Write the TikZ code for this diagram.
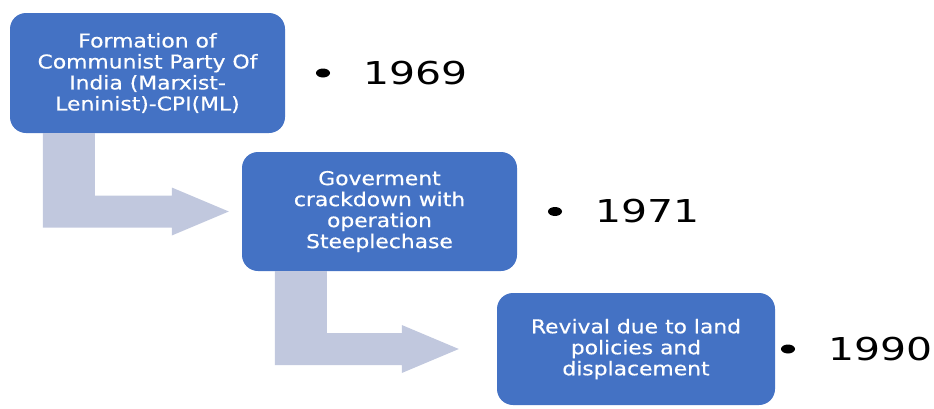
\documentclass[tikz,border=0pt]{standalone}
\usepackage{fontspec}
\usepackage{tikz}
\usetikzlibrary{positioning,calc,shapes.geometric}
\newfontfamily\boxfont{DejaVu Sans}[FakeStretch=1.15,FakeBold=0.5]
\newfontfamily\yearfont{DejaVu Sans}[FakeStretch=1.3]
\definecolor{boxblue}{RGB}{68,114,196}
\definecolor{arrowgray}{RGB}{193,200,222}
\tikzset{stage/.style={draw=none, fill=boxblue, rounded corners=16pt, text=white,
		align=center, inner sep=0pt, minimum width=275pt,
		font=\boxfont\fontsize{19}{21}\selectfont},
	year/.style={inner sep=0pt, font=\yearfont\fontsize{31.5}{36}\selectfont},
	dot/.style={ellipse, fill=black, inner sep=0pt, minimum width=14pt, minimum height=9pt},
	arrowfill/.style={fill=arrowgray}}
% bent block arrow from the bottom of one box to the side of the next
\newcommand{\bentarrow}[3]{%
	\fill[arrowfill] ($(#1.south west)+(33,0)$) coordinate (p0) -- ++(52,0)
	|- ($(#2.west)+(-#3-57,-16)$) -- ++(0,-8) -- ($(#2.west)+(-#3,0)$)
	-- ($(#2.west)+(-#3-57,24)$) -- ++(0,-8) -| (p0) -- cycle;}

\begin{document}
\begin{tikzpicture}[x=1pt,y=-1pt]
		\useasboundingbox (0,0) rectangle (934,408);
		%		boxes
		\node[stage, minimum height=120pt] (form) at (147.5,73)
		{Formation of\\Communist Party Of\\India (Marxist-\\Leninist)-CPI(ML)};
		\node[stage, minimum height=119pt] (crack) at (379.5,211.5)
		{Goverment\\crackdown with\\operation\\Steeplechase};
		\node[stage, minimum height=112pt, minimum width=278pt] (revival) at (636,349)
		{Revival due to land\\policies and\\displacement};
		\bentarrow{form}{crack}{13}
		\bentarrow{crack}{revival}{38}
		%		years
		\node[year, right=78pt of form] (y1) {1969};
		\node[year, right=78pt of crack] (y2) {1971};
		\node[year, right=53pt of revival] (y3) {1990};
		\node[dot, left=33pt of y1] (b1) {};
		\node[dot, left=33pt of y2] (b2) {};
		\node[dot, left=33pt of y3] (b3) {};
\end{tikzpicture}
\end{document}
